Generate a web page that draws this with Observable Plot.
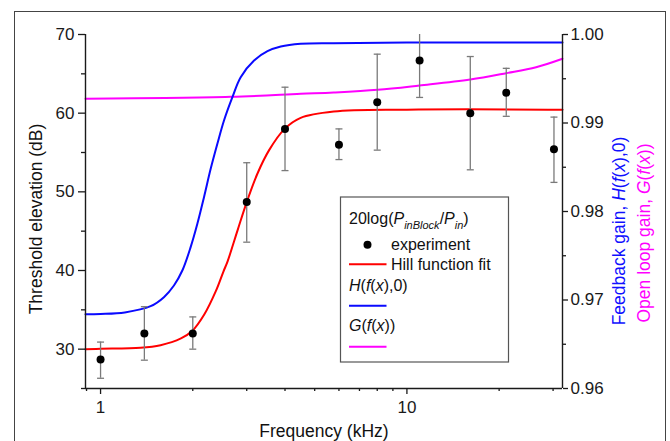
<!DOCTYPE html>
<html>
<head>
<meta charset="utf-8">
<script src="https://cdn.jsdelivr.net/npm/d3@7"></script>
<script src="https://cdn.jsdelivr.net/npm/@observablehq/plot@0.6"></script>
<style>
  html, body { margin: 0; padding: 0; background: #fff; }
  #wrap { position: relative; width: 670px; height: 441px; overflow: hidden; }
  #frame { position: absolute; left: 14px; top: 11px; width: 652px; height: 450px; border: 1.5px solid #444; box-sizing: border-box; pointer-events: none; }
</style>
</head>
<body>
<div id="wrap"><div id="frame"></div></div>
<script>
// Experiment: frequency (kHz), threshold elevation (dB), error bar ends
const expF  = [1.0, 1.39, 2.0, 3.0, 4.0, 6.0, 8.0, 11.0, 16.1, 21.1, 30.2];
const expV  = [28.7, 32.0, 32.0, 48.7, 58.0, 56.0, 61.4, 66.7, 60.0, 62.6, 55.4];
const expHi = [30.9, 35.4, 34.1, 53.7, 63.3, 58.0, 67.5, 70.6, 67.2, 65.7, 59.5];
const expLo = [26.3, 28.6, 30.0, 43.6, 52.7, 54.1, 55.3, 62.0, 52.8, 59.6, 51.2];

// Hill function fit (left axis, dB)
const redF = [0.893, 1.0, 1.35, 1.57, 1.83, 1.99, 2.18, 2.38, 2.52, 2.6, 2.8, 3.0, 3.25, 3.55, 3.99, 4.5, 5.77, 10, 32.2];
const redV = [30.0, 30.05, 30.17, 30.5, 31.36, 32.3, 34.4, 37.4, 39.9, 41.2, 45.1, 48.7, 52.3, 55.3, 58.0, 59.4, 60.2, 60.45, 60.45];

// Feedback gain H(f(x),0) (right axis)
const blueF = [0.893, 1.0, 1.2, 1.457, 1.61, 1.736, 1.849, 1.968, 2.07, 2.176, 2.288, 2.406, 2.529, 2.694, 2.867, 3.17, 3.507, 3.875, 4.5, 5.77, 10, 32.2];
const blueR = [0.9684, 0.96843, 0.9686, 0.9693, 0.97032, 0.97164, 0.97333, 0.97597, 0.97861, 0.98162, 0.98482, 0.98765, 0.99028, 0.99292, 0.99518, 0.99706, 0.99811, 0.99864, 0.99895, 0.99902, 0.9991, 0.9991];

// Open loop gain G(f(x)) (right axis)
const magF = [0.893, 2.66, 4.5, 5.77, 8.04, 11.0, 16.1, 21.1, 26.4, 32.2];
const magR = [0.99275, 0.99296, 0.9933, 0.99345, 0.99375, 0.99424, 0.99491, 0.99563, 0.9963, 0.99726];

// Axes
const xDomain = [0.893, 32.2];
const yDomain = [25, 70];
const rDomain = [0.96, 1.00];
const xMajor = [1, 10];
const xMinor = [0.9, 2, 3, 4, 5, 6, 7, 8, 9, 20, 30];
const yMajor = [30, 40, 50, 60, 70];
const yMinor = [25, 35, 45, 55, 65];
const rMajor = [0.96, 0.97, 0.98, 0.99, 1.00];
const rMinor = [0.965, 0.975, 0.985, 0.995];

// map right-axis values into left-axis units
const R = r => yDomain[0] + (r - rDomain[0]) / (rDomain[1] - rDomain[0]) * (yDomain[1] - yDomain[0]);
const Rinv = y => rDomain[0] + (y - yDomain[0]) / (yDomain[1] - yDomain[0]) * (rDomain[1] - rDomain[0]);

const exp = expF.map((f, i) => ({f, v: expV[i], hi: expHi[i], lo: expLo[i]}));
const red = redF.map((f, i) => ({f, v: redV[i]}));
const blue = blueF.map((f, i) => ({f, v: R(blueR[i])}));
const mag = magF.map((f, i) => ({f, v: R(magR[i])}));

const cap = {
  draw(ctx, size) {
    const w = Math.sqrt(size / Math.PI);
    ctx.moveTo(-w, 0);
    ctx.lineTo(w, 0);
  }
};

const FONT = "'Liberation Sans', Arial, sans-serif";
const gray = "#7a7a7a";
const axisC = "#1a1a1a";

const plot = Plot.plot({
  width: 670,
  height: 441,
  marginLeft: 85,
  marginRight: 108,
  marginTop: 34,
  marginBottom: 53,
  style: {fontFamily: FONT, fontSize: "17px", color: axisC, background: "transparent"},
  x: {type: "log", domain: xDomain, label: null},
  y: {domain: yDomain, label: null},
  marks: [
    Plot.line(mag, {x: "f", y: "v", stroke: "#ff00ff", strokeWidth: 2, curve: "catmull-rom"}),
    Plot.line(blue, {x: "f", y: "v", stroke: "#0a0aff", strokeWidth: 2, curve: "catmull-rom"}),
    Plot.line(red, {x: "f", y: "v", stroke: "#ff0000", strokeWidth: 2, curve: "catmull-rom"}),
    Plot.ruleX(exp, {x: "f", y1: "lo", y2: "hi", stroke: gray, strokeWidth: 1.3, clip: true}),
    Plot.dot(exp, {x: "f", y: "hi", symbol: cap, r: 3.5, stroke: gray, strokeWidth: 1.3, fill: "none", clip: true}),
    Plot.dot(exp, {x: "f", y: "lo", symbol: cap, r: 3.5, stroke: gray, strokeWidth: 1.3, fill: "none", clip: true}),
    Plot.dot(exp, {x: "f", y: "v", r: 4, fill: "#000", stroke: "none"}),
    // axis lines
    Plot.ruleX(xDomain, {stroke: axisC, strokeWidth: 1.4}),
    Plot.ruleY([yDomain[0]], {stroke: axisC, strokeWidth: 1.4}),
    // left axis
    Plot.axisY({ticks: yMajor, anchor: "left", tickSize: 7, tickPadding: 4, label: null, fontSize: 17, strokeWidth: 1.3}),
    Plot.axisY({ticks: yMinor, anchor: "left", tickSize: 4, text: null, label: null, strokeWidth: 1.3}),
    // right axis
    Plot.axisY({ticks: rMajor.map(R), anchor: "right", tickSize: 5, tickPadding: 3, label: null, fontSize: 17, strokeWidth: 1.3,
      tickFormat: d => Rinv(d).toFixed(2)}),
    Plot.axisY({ticks: rMinor.map(R), anchor: "right", tickSize: 3, text: null, label: null, strokeWidth: 1.3}),
    // bottom axis
    Plot.axisX({ticks: xMajor, anchor: "bottom", tickSize: 6, tickPadding: 6, label: null, fontSize: 17, strokeWidth: 1.3,
      tickFormat: d => String(d)}),
    Plot.axisX({ticks: xMinor, anchor: "bottom", tickSize: 3, text: null, label: null, strokeWidth: 1.3})
  ]
});

document.getElementById("wrap").insertBefore(plot, document.getElementById("frame"));

const svg = d3.select(plot);
const lab = svg.append("g").attr("font-family", FONT).attr("font-size", 17.5);
lab.append("text").attr("x", 324).attr("y", 437).attr("text-anchor", "middle").attr("fill", "#111").text("Frequency (kHz)");
lab.append("text").attr("transform", "translate(42,219) rotate(-90)").attr("text-anchor", "middle").attr("fill", "#111").text("Threshold elevation (dB)");

function richText(g, parts) {
  parts.forEach(p => {
    const t = g.append("tspan").text(p.t);
    if (p.i) t.attr("font-style", "italic");
    if (p.s) t.attr("font-size", p.s);
    if (p.dy) t.attr("dy", p.dy);
  });
}
const t1 = lab.append("text").attr("transform", "translate(625,231) rotate(-90)").attr("text-anchor", "middle").attr("fill", "#1010ff");
richText(t1, [{t: "Feedback gain, "}, {t: "H", i: 1}, {t: "("}, {t: "f", i: 1}, {t: "("}, {t: "x", i: 1}, {t: "),0)"}]);
const t2 = lab.append("text").attr("transform", "translate(650,233) rotate(-90)").attr("text-anchor", "middle").attr("fill", "#ff00ff");
richText(t2, [{t: "Open loop gain, "}, {t: "G", i: 1}, {t: "("}, {t: "f", i: 1}, {t: "("}, {t: "x", i: 1}, {t: "))"}]);

// legend
const lg = svg.append("g").attr("font-family", FONT).attr("font-size", 16).attr("fill", "#111").attr("text-anchor", "start");
lg.append("rect").attr("x", 340.5).attr("y", 197).attr("width", 168).attr("height", 165)
  .attr("fill", "#fff").attr("stroke", "#555").attr("stroke-width", 1.2);
const l1 = lg.append("text").attr("x", 349).attr("y", 223.5);
richText(l1, [{t: "20log("}, {t: "P", i: 1}, {t: "inBlock", i: 1, s: 11, dy: 5}, {t: "/", dy: -5}, {t: "P", i: 1}, {t: "in", i: 1, s: 11, dy: 5}, {t: ")", dy: -5}]);
lg.append("circle").attr("cx", 367.5).attr("cy", 244.7).attr("r", 4).attr("fill", "#000");
lg.append("text").attr("x", 391).attr("y", 249.5).text("experiment");
lg.append("line").attr("x1", 349).attr("x2", 386.5).attr("y1", 264.3).attr("y2", 264.3).attr("stroke", "#ff0000").attr("stroke-width", 2);
lg.append("text").attr("x", 391).attr("y", 270).text("Hill function fit");
const l3 = lg.append("text").attr("x", 349).attr("y", 290.7);
richText(l3, [{t: "H", i: 1}, {t: "("}, {t: "f", i: 1}, {t: "("}, {t: "x", i: 1}, {t: "),0)"}]);
lg.append("line").attr("x1", 349).attr("x2", 386.5).attr("y1", 305.7).attr("y2", 305.7).attr("stroke", "#0a0aff").attr("stroke-width", 2);
const l4 = lg.append("text").attr("x", 349).attr("y", 330.7);
richText(l4, [{t: "G", i: 1}, {t: "("}, {t: "f", i: 1}, {t: "("}, {t: "x", i: 1}, {t: "))"}]);
lg.append("line").attr("x1", 349).attr("x2", 386.5).attr("y1", 346.7).attr("y2", 346.7).attr("stroke", "#ff00ff").attr("stroke-width", 2);
</script>
</body>
</html>
